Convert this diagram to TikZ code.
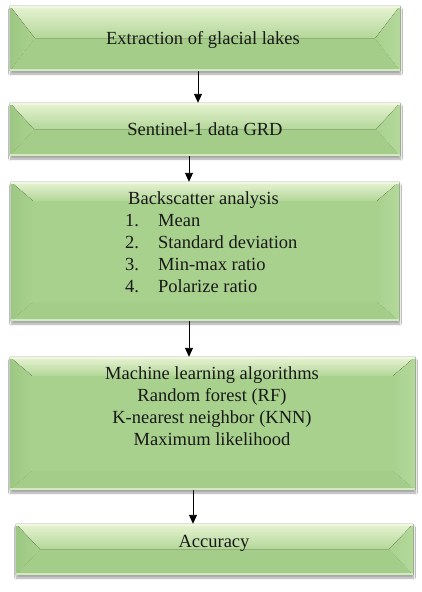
\documentclass[tikz,border=0pt]{standalone}
\usepackage{fontspec}
\setmainfont{Liberation Serif}
\usetikzlibrary{calc,arrows.meta,shadows.blur}
\definecolor{gmain}{HTML}{A9D18E}
\definecolor{gtop}{HTML}{E8F4D3}
\definecolor{gleft}{HTML}{9CC883}
\definecolor{gright}{HTML}{B4D99B}
\definecolor{gbot}{HTML}{A4CD89}
\definecolor{gline}{HTML}{D2E9C2}
\tikzset{
  boxshape/.style={rectangle, inner sep=0pt, fill=gmain,
    blur shadow={shadow xshift=0.5pt, shadow yshift=-3pt, shadow opacity=35, shadow blur steps=6}},
  txt/.style={inner sep=0pt, font=\fontsize{18.5}{22}\selectfont, text=black!90},
  arr/.style={-{Triangle[width=8pt,length=9pt]}, line width=0.9pt, black},
}
\newcommand\bevel[3]{% node, dx, dy
  \fill[top color=gtop, bottom color=gmain!85!gtop] (#1.north west) -- (#1.north east) -- ($(#1.north east)+(-#2,#3)$) -- ($(#1.north west)+(#2,#3)$) -- cycle;
  \fill[left color=gleft, right color=gmain] (#1.north west) -- ($(#1.north west)+(#2,#3)$) -- ($(#1.south west)+(#2,-#3)$) -- (#1.south west) -- cycle;
  \fill[left color=gmain, right color=gright] (#1.north east) -- ($(#1.north east)+(-#2,#3)$) -- ($(#1.south east)+(-#2,-#3)$) -- (#1.south east) -- cycle;
  \fill[gbot] (#1.south west) -- ($(#1.south west)+(#2,-#3)$) -- ($(#1.south east)+(-#2,-#3)$) -- (#1.south east) -- cycle;
  \fill[gtop!70!white] (#1.north west) rectangle ($(#1.north east)+(0,2.5)$);
  \fill[gline] ($(#1.south west)+(0,-2)$) rectangle (#1.south east);
  \draw[gmain!80!black, line width=0.5pt, opacity=0.5] (#1.north east) -- (#1.south east);
}
\begin{document}
\begin{tikzpicture}[x=1pt,y=-1pt]
\useasboundingbox[fill=white] (0,0) rectangle (422,592);
% boxes
\node[boxshape, minimum width=390pt, minimum height=65pt] (b1) at (205,38.5) {};
\bevel{b1}{25}{32.5}
\node[boxshape, minimum width=390pt, minimum height=53pt] (b2) at (205,129.5) {};
\bevel{b2}{24}{26.5}
\node[boxshape, minimum width=388pt, minimum height=139pt] (b3) at (205,251.5) {};
\bevel{b3}{22}{19}
\node[boxshape, minimum width=405pt, minimum height=133pt] (b4) at (212.5,423.5) {};
\bevel{b4}{22}{19}
\node[boxshape, minimum width=397pt, minimum height=51pt] (b5) at (214.5,549.5) {};
\bevel{b5}{24}{25.5}
% texts
\node[txt] (t1) at (203,40) {Extraction of glacial lakes};
\node[txt] (t2) at (205,129.5) {Sentinel-1 data GRD};
\node[txt, anchor=north west, align=left] (t3) at (125,191) {\hspace*{3pt}Backscatter analysis\\
\makebox[33pt][l]{1.}Mean\\
\makebox[33pt][l]{2.}Standard deviation\\
\makebox[33pt][l]{3.}Min-max ratio\\
\makebox[33pt][l]{4.}Polarize ratio};
\node[txt, anchor=north, align=center] (t4) at (212,366) {Machine learning algorithms\\Random forest (RF)\\K-nearest neighbor (KNN)\\Maximum likelihood};
\node[txt] (t5) at (214,543) {Accuracy};
% arrows
\coordinate (x1) at (198,0);
\coordinate (x2) at (189,0);
\coordinate (x4) at (193,0);
\draw[arr] (b1.south -| x1) -- (b2.north -| x1);
\draw[arr] (b2.south -| x2) -- (b3.north -| x2);
\draw[arr] (b3.south -| x2) -- (b4.north -| x2);
\draw[arr] (b4.south -| x4) -- (b5.north -| x4);
\end{tikzpicture}
\end{document}
